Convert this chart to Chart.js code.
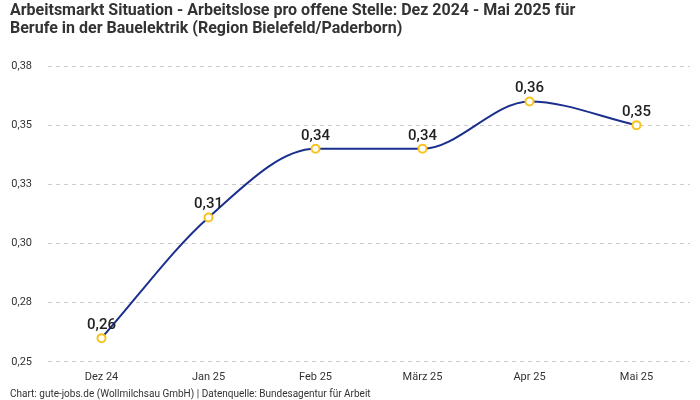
<!DOCTYPE html>
<html>
<head>
<meta charset="utf-8">
<script src="https://cdn.jsdelivr.net/npm/chart.js@4"></script>
<style>
  body { margin: 0; background: #fff; }
  #wrap { width: 700px; height: 400px; }
</style>
</head>
<body>
<div id="wrap"><canvas id="chart"></canvas></div>
<script>
var months = ['Dez 24', 'Jan 25', 'Feb 25', 'März 25', 'Apr 25', 'Mai 25'];
var values = [0.26, 0.311, 0.34, 0.34, 0.36, 0.35];
var yTicks = [0.25, 0.275, 0.30, 0.325, 0.35, 0.375];

var titleLines = [
    'Arbeitsmarkt Situation - Arbeitslose pro offene Stelle: Dez 2024 - Mai 2025 für',
    'Berufe in der Bauelektrik (Region Bielefeld/Paderborn)'
];
var source = 'Chart: gute-jobs.de (Wollmilchsau GmbH) | Datenquelle: Bundesagentur für Arbeit';

function fmt(v) {
    return v.toFixed(2).replace('.', ',');
}

// Titel und Quelle selbst zeichnen
var texts = {
    id: 'texts',
    afterDraw: function(chart) {
        var ctx = chart.ctx;
        ctx.save();
        ctx.fillStyle = '#333';
        ctx.textAlign = 'left';
        ctx.textBaseline = 'middle';
        ctx.font = 'bold 16px Roboto, sans-serif';
        // Zeile 1 auf ca. 588px Breite, gleiche Stauchung für Zeile 2
        var w = ctx.measureText(titleLines[0]).width;
        var sx = Math.min(1, 588 / w);
        ctx.fillText(titleLines[0], 10, 11, w * sx);
        var w2 = ctx.measureText(titleLines[1]).width;
        ctx.fillText(titleLines[1], 10, 29, w2 * sx);
        ctx.font = '10px Roboto, sans-serif';
        ctx.fillText(source, 10, 394);
        ctx.restore();
    }
};

// Werte über die Punkte schreiben
var valueLabels = {
    id: 'valueLabels',
    afterDatasetsDraw: function(chart) {
        var ctx = chart.ctx;
        var meta = chart.getDatasetMeta(0);
        ctx.save();
        ctx.font = '500 15px Roboto, sans-serif';
        ctx.fillStyle = '#222';
        ctx.textAlign = 'center';
        ctx.textBaseline = 'alphabetic';
        meta.data.forEach(function(pt, i) {
            ctx.fillText(fmt(values[i]), pt.x, pt.y - 9);
        });
        ctx.restore();
    }
};

var chart = new Chart(document.getElementById('chart'), {
    type: 'line',
    data: {
        labels: months,
        datasets: [{
            data: values,
            borderColor: '#1b2f8e',
            borderWidth: 2,
            cubicInterpolationMode: 'monotone',
            pointRadius: 4,
            pointBorderWidth: 2,
            pointBackgroundColor: '#fff',
            pointBorderColor: '#f7c31c',
            fill: false
        }]
    },
    options: {
        responsive: true,
        maintainAspectRatio: false,
        animation: false,
        layout: { padding: { left: 10, right: 10, top: 66, bottom: 15 } },
        plugins: {
            legend: { display: false },
            tooltip: { enabled: false }
        },
        scales: {
            x: {
                offset: true,
                grid: { display: false },
                border: { display: false },
                ticks: { color: '#333', font: { family: 'Roboto, sans-serif', size: 11 }, padding: 1 }
            },
            y: {
                min: 0.25,
                max: 0.375,
                afterBuildTicks: function(scale) {
                    scale.ticks = yTicks.map(function(v) { return { value: v }; });
                },
                afterFit: function(scale) { scale.width = 38; },
                grid: { color: '#cccccc', drawTicks: false },
                border: { display: false, dash: [4, 4] },
                ticks: {
                    color: '#333',
                    font: { family: 'Roboto, sans-serif', size: 11 },
                    padding: 16,
                    callback: function(v) { return fmt(v); }
                }
            }
        }
    },
    plugins: [valueLabels, texts]
});
</script>
</body>
</html>
